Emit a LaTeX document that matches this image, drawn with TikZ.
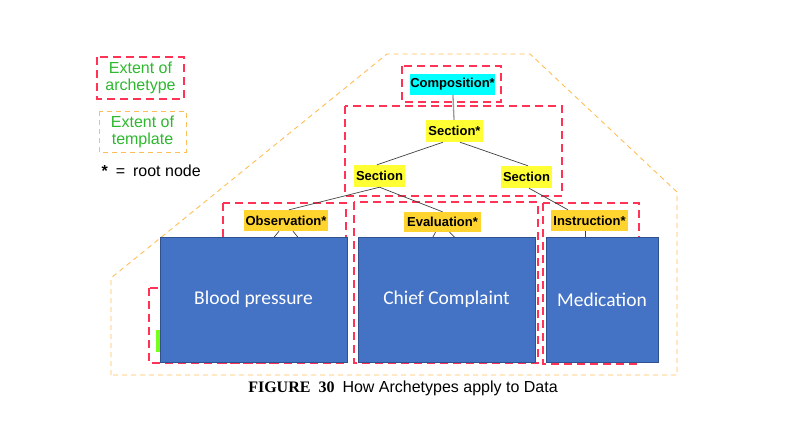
\documentclass[tikz,border=0pt]{standalone}
\usepackage{fontspec}
\setmainfont{Liberation Sans}
\newfontfamily\capfont{Liberation Serif}
\newfontfamily\boxfont{Carlito}
\usetikzlibrary{positioning}
\definecolor{archred}{HTML}{FF3355}
\definecolor{tmplorange}{HTML}{FFBE55}
\definecolor{legendgreen}{HTML}{2DB82D}
\definecolor{secyellow}{HTML}{FFFF33}
\definecolor{rootgold}{HTML}{FFD42E}
\definecolor{compcyan}{HTML}{00FFFF}
\definecolor{datablue}{HTML}{4472C4}
\definecolor{databorder}{HTML}{2F528F}
\tikzstyle{arch}=[draw=archred, line width=2pt, dash pattern=on 8pt off 5pt]
\tikzstyle{tmpl}=[draw=tmplorange, line width=0.9pt, dash pattern=on 5pt off 4pt]
\tikzstyle{lbl}=[inner sep=0pt, font=\fontsize{13}{15}\selectfont\bfseries]
\tikzstyle{sec}=[lbl, fill=secyellow]
\tikzstyle{root}=[lbl, fill=rootgold]
\tikzstyle{datum}=[fill=datablue, draw=databorder, line width=1pt, text=white, inner sep=0pt, minimum height=125pt, font=\boxfont\fontsize{19.5}{22}\selectfont]
\tikzstyle{legend}=[text=legendgreen, align=center, font=\fontsize{16}{17}\selectfont]
\tikzstyle{link}=[draw=black!75, line width=0.7pt]

\begin{document}
\begin{tikzpicture}[x=1pt, y=-1pt]
\useasboundingbox (0,0) rectangle (806,426);
%
  % template outline
  \draw[tmpl] (111,375) -- (111,278) -- (387,54) -- (530,54) -- (677,192) -- (677,375) -- cycle;
%
  % archetype extents
  \draw[arch] (402,66) rectangle (501,102);
  \draw[arch] (345,106) rectangle (562,196);
  \draw[arch] (223,203) rectangle (346,363);
  \draw[arch] (354,202) rectangle (538,363);
  \draw[arch] (543,203) rectangle (639,364);
  \draw[arch] (149,288) rectangle (280,363);
  \fill[green!60!yellow!90] (156,330) rectangle (161,352);
%
  % legend
  \draw[arch] (97,57) rectangle (184,99);
  \node[legend] (larch) at (140.5,78) {Extent of\\archetype};
  \draw[tmpl] (99,111) rectangle (186,152);
  \node[legend] (ltmpl) at (142.5,131.5) {Extent of\\template};
  \node[font=\fontsize{16}{17}\selectfont, anchor=west] (lroot) at (98,171) {\textbf{*}\enspace=\enspace root node};
%
  % tree
  \node[lbl, fill=compcyan, minimum width=85pt, minimum height=21pt] (comp) at (452.5,84.5) {Composition*};
  \node[sec, minimum width=57pt, minimum height=22pt] (secr) at (454.5,131) {Section*};
  \node[sec, minimum width=51pt, minimum height=22pt] (secl) at (379.5,176) {Section};
  \node[sec, minimum width=51pt, minimum height=22pt] (secs) at (526.5,177) {Section};
  \node[root, minimum width=84pt, minimum height=21pt] (obs) at (286,220.5) {Observation*};
  \node[root, minimum width=77pt, minimum height=20pt] (eval) at (442.5,222) {Evaluation*};
  \node[root, minimum width=77pt, minimum height=21pt] (instr) at (589.5,220.5) {Instruction*};
%
  \coordinate (obsa) at (262,252);
  \coordinate (obsb) at (310,252);
  \coordinate (evala) at (425,252);
  \coordinate (evalb) at (470,252);
%
  \path[link]
  ([xshift=-11.5pt]secr.south) edge ([xshift=-2.5pt]secl.north)
  ([xshift=5.5pt]secr.south) edge ([xshift=1.5pt]secs.north)
  (secl.south) edge ([xshift=3pt]obs.north)
  (secl.south) edge (eval.north)
  ([xshift=2.5pt]secs.south) edge ([xshift=-21.5pt]instr.north)
  ([xshift=-7pt]obs.south) edge (obsa)
  ([xshift=7pt]obs.south) edge (obsb)
  ([xshift=-7pt]eval.south) edge (evala)
  ([xshift=7pt]eval.south) edge (evalb)
  ([xshift=-4.5pt]instr.south) edge ([xshift=-4.5pt]instr.south |- 0,245);
  \draw[draw=black!40, line width=1.3pt] (comp) -- (secr);
%
  % data
  \node[datum, minimum width=187pt] (bp) at (253.5,299.5) {Blood pressure};
  \node[datum, minimum width=177pt] (cc) at (446.5,299.5) {Chief Complaint};
  \node[datum, minimum width=112pt] (med) at (602,299.5) {Medication};
%
  \node[font=\fontsize{16}{18}\selectfont] (cap) at (403,388) {{\capfont\bfseries\fontsize{16}{18}\selectfont FIGURE\enspace 30}\enspace How Archetypes apply to Data};
\end{tikzpicture}
\end{document}
